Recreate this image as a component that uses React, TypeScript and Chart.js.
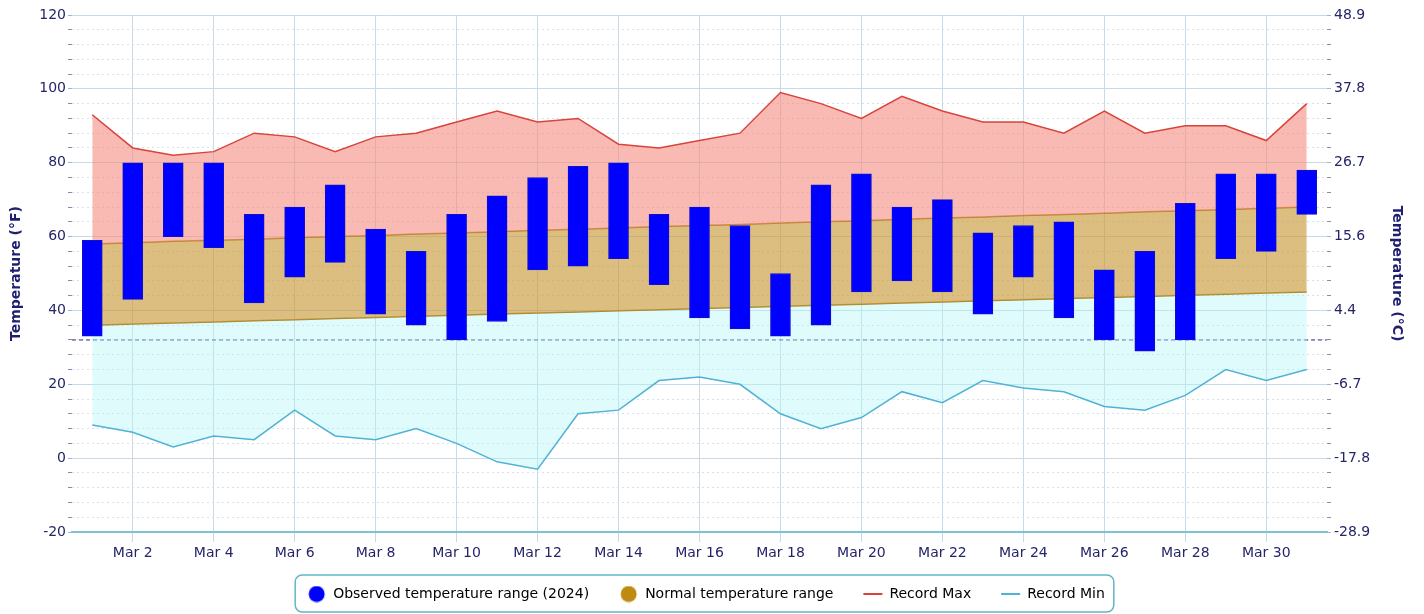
import React, { useEffect, useRef } from 'react';
import { Chart, registerables } from 'chart.js';

Chart.register(...registerables);

const days = [
  'Mar 1', 'Mar 2', 'Mar 3', 'Mar 4', 'Mar 5', 'Mar 6', 'Mar 7', 'Mar 8', 'Mar 9', 'Mar 10',
  'Mar 11', 'Mar 12', 'Mar 13', 'Mar 14', 'Mar 15', 'Mar 16', 'Mar 17', 'Mar 18', 'Mar 19', 'Mar 20',
  'Mar 21', 'Mar 22', 'Mar 23', 'Mar 24', 'Mar 25', 'Mar 26', 'Mar 27', 'Mar 28', 'Mar 29', 'Mar 30', 'Mar 31',
];

const observedHigh = [59, 80, 80, 80, 66, 68, 74, 62, 56, 66, 71, 76, 79, 80, 66, 68, 63, 50, 74, 77, 68, 70, 61, 63, 64, 51, 56, 69, 77, 77, 78];
const observedLow = [33, 43, 60, 57, 42, 49, 53, 39, 36, 32, 37, 51, 52, 54, 47, 38, 35, 33, 36, 45, 48, 45, 39, 49, 38, 32, 29, 32, 54, 56, 66];

const normalHigh = [58, 58.3, 58.7, 59, 59.3, 59.7, 60, 60.3, 60.7, 61, 61.3, 61.7, 62, 62.3, 62.7, 63, 63.3, 63.7, 64, 64.3, 64.7, 65, 65.3, 65.7, 66, 66.3, 66.7, 67, 67.3, 67.7, 68];
const normalLow = [36, 36.3, 36.6, 36.9, 37.2, 37.5, 37.8, 38.1, 38.4, 38.7, 39, 39.3, 39.6, 39.9, 40.2, 40.5, 40.8, 41.1, 41.4, 41.7, 42, 42.3, 42.6, 42.9, 43.2, 43.5, 43.8, 44.1, 44.4, 44.7, 45];

const recordMax = [93, 84, 82, 83, 88, 87, 83, 87, 88, 91, 94, 91, 92, 85, 84, 86, 88, 99, 96, 92, 98, 94, 91, 91, 88, 94, 88, 90, 90, 86, 96];
const recordMin = [9, 7, 3, 6, 5, 13, 6, 5, 8, 4, -1, -3, 12, 13, 21, 22, 20, 12, 8, 11, 18, 15, 21, 19, 18, 14, 13, 17, 24, 21, 24];

const freezingF = 32;
const majorTickValues = [-20, 0, 20, 40, 60, 80, 100, 120];
const fahrenheitTickLabels = ['-20', '0', '20', '40', '60', '80', '100', '120'];
const celsiusTickLabels = ['-28.9', '-17.8', '-6.7', '4.4', '15.6', '26.7', '37.8', '48.9'];

const legendLabels = ['Observed temperature range (2024)', 'Normal temperature range', 'Record Max', 'Record Min'];

const FONT = '"DejaVu Sans", Verdana, sans-serif';
const NAVY = '#25256a';
const GRID = '#c6dbe7';
const MINOR = '#d6e1e8';

const isMajor = (v: number) => majorTickValues.indexOf(v) >= 0;

function makeDot(color: string) {
  const c = document.createElement('canvas');
  c.width = 19;
  c.height = 17;
  const g = c.getContext('2d');
  if (g) {
    g.fillStyle = color;
    g.beginPath();
    g.arc(9.5, 8.5, 8, 0, Math.PI * 2);
    g.fill();
  }
  return c;
}

const freezingLinePlugin = {
  id: 'freezingLine',
  beforeDatasetsDraw(chart: any) {
    const { ctx, chartArea } = chart;
    const y = chart.scales.y.getPixelForValue(freezingF);
    ctx.save();
    ctx.setLineDash([4, 3]);
    ctx.strokeStyle = '#2e2e88';
    ctx.lineWidth = 1;
    ctx.beginPath();
    ctx.moveTo(chartArea.left, y);
    ctx.lineTo(chartArea.right, y);
    ctx.stroke();
    ctx.restore();
  },
};

const legendBoxPlugin = {
  id: 'legendBox',
  afterDraw(chart: any) {
    const hb = chart.legend && chart.legend.legendHitBoxes;
    if (!hb || !hb.length) return;
    const first = hb[0];
    const last = hb[hb.length - 1];
    const cy = first.top + first.height / 2;
    const left = first.left - 12;
    const right = last.left + last.width + 9;
    const top = cy - 19;
    const bottom = cy + 18;
    const { ctx } = chart;
    ctx.save();
    ctx.strokeStyle = '#62b6c6';
    ctx.lineWidth = 1.5;
    ctx.beginPath();
    (ctx as any).roundRect(left, top, right - left, bottom - top, 7);
    ctx.stroke();
    ctx.restore();
  },
};

export default function App() {
  const canvasRef = useRef<HTMLCanvasElement | null>(null);

  useEffect(() => {
    if (!canvasRef.current) return;
    Chart.defaults.font.family = FONT;
    Chart.defaults.font.size = 14;
    Chart.defaults.color = NAVY;

    const blueDot = makeDot('#0000ff');
    const tanDot = makeDot('#bf8a12');

    const chart = new Chart(canvasRef.current, {
      type: 'bar',
      data: {
        labels: days,
        datasets: [
          {
            type: 'bar',
            label: legendLabels[0],
            data: days.map((_, i) => [observedLow[i], observedHigh[i]]) as any,
            backgroundColor: '#0000ff',
            borderColor: '#1010c8',
            borderWidth: 1,
            borderSkipped: false,
            barThickness: 20,
            yAxisID: 'y',
          } as any,
          {
            type: 'line',
            label: legendLabels[2],
            data: recordMax,
            borderColor: '#d8443a',
            borderWidth: 1.5,
            backgroundColor: 'rgba(245, 140, 130, 0.6)',
            fill: 2,
            pointRadius: 0,
            tension: 0,
            yAxisID: 'y',
          } as any,
          {
            type: 'line',
            label: 'Normal High',
            data: normalHigh,
            borderColor: '#b8862b',
            borderWidth: 1.5,
            backgroundColor: 'rgba(200, 155, 60, 0.65)',
            fill: 3,
            pointRadius: 0,
            tension: 0,
            yAxisID: 'y',
          } as any,
          {
            type: 'line',
            label: 'Normal Low',
            data: normalLow,
            borderColor: '#a88a2e',
            borderWidth: 1.5,
            fill: false,
            pointRadius: 0,
            tension: 0,
            yAxisID: 'y',
          } as any,
          {
            type: 'line',
            label: legendLabels[3],
            data: recordMin,
            borderColor: '#4fb2d6',
            borderWidth: 1.5,
            backgroundColor: 'rgba(180, 245, 245, 0.42)',
            fill: 3,
            pointRadius: 0,
            tension: 0,
            yAxisID: 'y',
          } as any,
        ],
      },
      options: {
        animation: false,
        responsive: false,
        devicePixelRatio: 1,
        layout: { padding: { top: 15, left: 0, right: 12, bottom: 3 } },
        plugins: {
          tooltip: { enabled: false },
          legend: {
            position: 'bottom',
            labels: {
              usePointStyle: true,
              pointStyleWidth: 19,
              boxHeight: 11.3,
              padding: 30,
              color: NAVY,
              font: { size: 14, family: FONT },
              generateLabels: () => [
                { text: legendLabels[0], fillStyle: '#0000ff', strokeStyle: '#0000ff', lineWidth: 0, pointStyle: blueDot, hidden: false, datasetIndex: 0 },
                { text: legendLabels[1], fillStyle: '#bf8a12', strokeStyle: '#bf8a12', lineWidth: 0, pointStyle: tanDot, hidden: false, datasetIndex: 2 },
                { text: legendLabels[2], fillStyle: '#d8443a', strokeStyle: '#d8443a', lineWidth: 2, pointStyle: 'line', hidden: false, datasetIndex: 1 },
                { text: legendLabels[3], fillStyle: '#4fb2d6', strokeStyle: '#4fb2d6', lineWidth: 2, pointStyle: 'line', hidden: false, datasetIndex: 4 },
              ] as any,
            },
          },
        },
        scales: {
          x: {
            type: 'category',
            offset: true,
            afterBuildTicks: (scale: any) => {
              scale.ticks = scale.ticks.filter((t: any) => t.value % 2 === 1);
            },
            afterFit: (scale: any) => {
              scale.height = 25;
            },
            grid: { offset: false, color: GRID, lineWidth: 1, tickLength: 10, tickColor: GRID },
            border: { color: '#80c2d2', width: 2 },
            ticks: { autoSkip: false, maxRotation: 0, padding: 3, color: NAVY, font: { size: 14 } },
          },
          y: {
            type: 'linear',
            position: 'left',
            min: -20,
            max: 120,
            afterFit: (scale: any) => {
              scale.width = 72;
            },
            ticks: {
              stepSize: 4,
              autoSkip: false,
              maxTicksLimit: 100,
              padding: 2,
              color: NAVY,
              font: { size: 14 },
              callback: (v: any) => {
                const i = majorTickValues.indexOf(Number(v));
                return i >= 0 ? fahrenheitTickLabels[i] : '';
              },
            },
            grid: {
              color: (ctx: any) => (ctx.tick && isMajor(ctx.tick.value) ? GRID : MINOR),
              tickColor: (ctx: any) => (ctx.tick && isMajor(ctx.tick.value) ? '#9fb7c8' : '#8a8aa8'),
              tickLength: 4,
              lineWidth: 1,
            },
            border: {
              display: false,
              dash: (ctx: any) => (ctx.tick && isMajor(ctx.tick.value) ? [] : [2, 3]),
            },
            title: {
              display: true,
              text: 'Temperature (°F)',
              color: '#1f1f70',
              font: { size: 14, weight: 'bold' },
              padding: { top: 8, bottom: 4 },
            },
          },
          yRight: {
            type: 'linear',
            position: 'right',
            min: -20,
            max: 120,
            afterFit: (scale: any) => {
              scale.width = 85;
            },
            ticks: {
              stepSize: 4,
              autoSkip: false,
              maxTicksLimit: 100,
              padding: 3,
              color: NAVY,
              font: { size: 14 },
              callback: (v: any) => {
                const i = majorTickValues.indexOf(Number(v));
                return i >= 0 ? celsiusTickLabels[i] : '';
              },
            },
            grid: {
              drawOnChartArea: false,
              tickColor: (ctx: any) => (ctx.tick && isMajor(ctx.tick.value) ? '#9fb7c8' : '#8a8aa8'),
              tickLength: 4,
            },
            border: { display: false },
            title: {
              display: true,
              text: 'Temperature (°C)',
              color: '#1f1f70',
              font: { size: 14, weight: 'bold' },
              padding: { top: 7, bottom: 4 },
            },
          },
        },
      } as any,
      plugins: [freezingLinePlugin, legendBoxPlugin],
    });

    return () => {
      chart.destroy();
    };
  }, []);

  return (
    <div style={{ position: 'absolute', left: 0, top: 0, width: 1424, height: 614, overflow: 'hidden', background: '#ffffff' }}>
      <canvas ref={canvasRef} width={1424} height={614} style={{ display: 'block' }} />
    </div>
  );
}
